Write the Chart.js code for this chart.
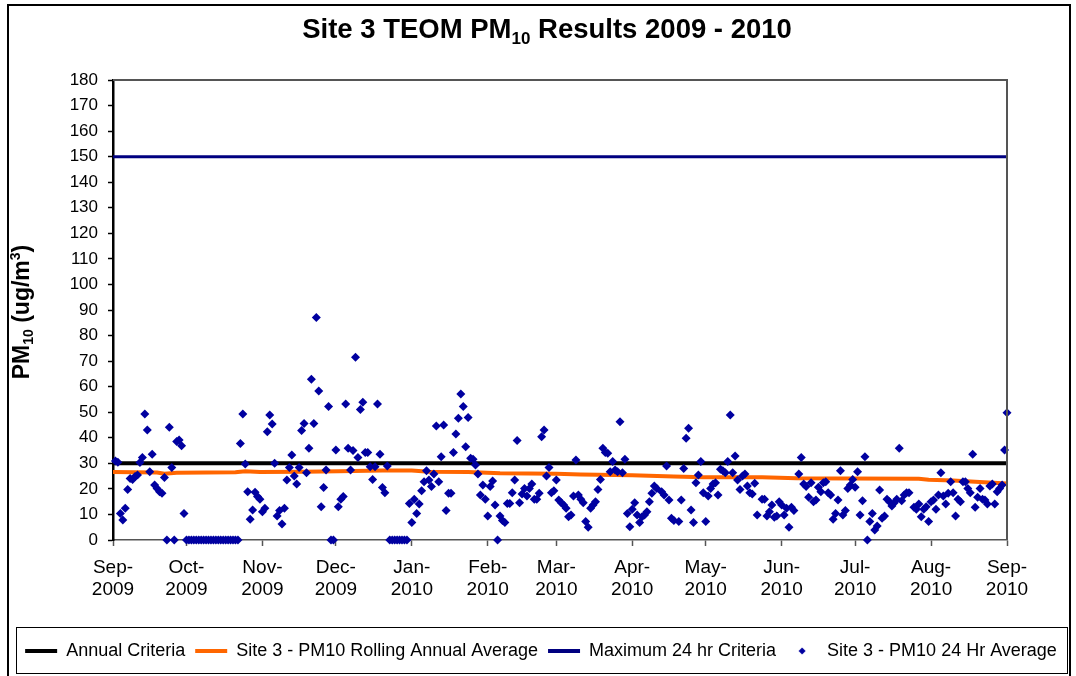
<!DOCTYPE html>
<html>
<head>
<meta charset="utf-8">
<script src="https://cdn.jsdelivr.net/npm/chart.js@4.4.1/dist/chart.umd.min.js"></script>
<style>
  html, body { margin: 0; padding: 0; background: #fff; }
</style>
</head>
<body>
<canvas id="chart" width="1076" height="676"></canvas>
<script>
// x values are days since 1 Sep 2009
const monthTickDays = [0, 30, 61, 91, 122, 153, 181, 212, 242, 273, 303, 334, 365];
const monthTickLabels = [
    ['Sep-', '2009'], ['Oct-', '2009'], ['Nov-', '2009'], ['Dec-', '2009'],
    ['Jan-', '2010'], ['Feb-', '2010'], ['Mar-', '2010'], ['Apr-', '2010'],
    ['May-', '2010'], ['Jun-', '2010'], ['Jul-', '2010'], ['Aug-', '2010'], ['Sep-', '2010']
];

const criteriaDays = [0, 365];
const annualCriteria = [30, 30];
const max24hrCriteria = [150, 150];

const rollingDays = [0, 18, 21, 26, 50, 54, 60, 78, 92, 110, 122, 129, 145, 158, 181, 191, 212, 229, 241, 265, 279, 301, 329, 333, 343, 352, 365];
const rollingAvg = [26.6, 26.4, 25.9, 26.3, 26.5, 26.9, 26.6, 26.7, 26.9, 27.2, 27.2, 26.7, 26.6, 26.1, 25.9, 25.6, 25.3, 24.8, 24.6, 24.6, 24.2, 24.1, 24.0, 23.6, 23.3, 22.8, 22.1];

// daily 24 hr averages, index = day (null = no reading)
const pm10Daily = [
    null, 30.9, 30.4, 10.4, 7.8, 12.4, 19.8, 24.1, 23.7, 24.8,
    25.4, 30.3, 32.3, 49.3, 43.0, 26.7, 33.6, 21.5, 20.2, 18.9,
    18.3, 24.5, 0, 44.1, 28.4, 0, 38.5, 39.1, 36.9, 10.4,
    0, 0, 0, 0, 0, 0, 0, 0, 0, 0,
    0, 0, 0, 0, 0, 0, 0, 0, 0, 0,
    0, 0, 37.8, 49.3, 29.7, 18.9, 8.1, 11.7, 18.7, 17.0,
    15.9, 11.1, 12.4, 42.4, 48.9, 45.4, 30.0, 9.4, 11.5, 6.3,
    12.4, 23.5, 28.4, 33.3, 25.0, 21.9, 28.4, 42.8, 45.6, 26.3,
    35.9, 62.9, 45.6, 87.1, 58.3, 13.0, 20.5, 27.4, 52.2, 0,
    0, 35.2, 13.0, 15.9, 17.0, 53.2, 35.9, 27.4, 35.0, 71.5,
    32.3, 51.1, 53.9, 34.2, 34.2, 28.7, 23.7, 28.7, 53.2, 33.6,
    20.5, 18.5, 29.0, 0, 0, 0, 0, 0, 0, 0,
    0, 14.3, 6.8, 15.9, 10.4, 14.1, 19.3, 22.8, 27.1, 23.5,
    20.9, 25.8, 44.6, 22.8, 32.6, 45.0, 11.5, 18.3, 18.3, 34.2,
    41.5, 47.6, 57.1, 52.2, 36.5, 47.9, 32.0, 31.6, 29.3, 25.8,
    17.6, 21.5, 15.9, 9.4, 20.9, 23.1, 13.7, 0, 9.4, 7.6,
    6.8, 14.3, 14.3, 18.5, 23.5, 38.9, 14.6, 18.0, 20.2, 17.2,
    20.2, 21.9, 15.9, 15.9, 18.3, 40.4, 43.0, 25.0, 28.4, 18.5,
    19.3, 23.5, 15.7, 14.6, 13.7, 12.4, 9.1, 9.8, 17.2, 31.3,
    17.6, 15.9, 14.6, 7.2, 5.0, 12.4, 13.7, 15.0, 19.8, 23.7,
    35.9, 34.2, 33.9, 26.7, 30.7, 27.4, 26.7, 46.3, 26.3, 31.6,
    10.4, 5.2, 12.0, 14.6, 9.8, 6.8, 9.1, 9.8, 11.1, 15.0,
    18.3, 21.1, 20.2, null, 18.9, 17.6, 29.0, 15.7, 8.5, 7.6,
    null, 7.2, 15.7, 28.0, 39.8, 43.7, 11.7, 6.8, 22.4, 25.4,
    30.7, 18.5, 7.2, 17.2, 20.2, 21.9, 22.4, 17.6, 27.7, 27.1,
    26.3, 30.7, 48.9, 26.3, 32.9, 23.5, 19.8, 25.0, 25.8, 21.1,
    18.5, 18.0, 22.2, 9.8, null, 15.9, 15.9, 9.4, 11.1, 13.7,
    8.9, 9.4, 15.0, 13.7, 9.8, 12.4, 5.0, 12.8, 11.5, null,
    25.8, 32.3, 21.9, 20.9, 16.7, 22.4, 15.0, 15.7, 20.6, 18.9,
    22.4, 22.8, 18.5, 17.6, 8.1, 10.4, 15.7, 27.1, 9.8, 11.5,
    20.2, 21.5, 23.7, 20.6, 26.7, 9.8, 15.4, 32.6, 0, 7.2,
    10.4, 3.9, 5.5, 19.6, 8.5, 9.4, 15.9, 15.0, 13.3, 14.6,
    15.9, 35.9, 15.4, 17.6, 18.5, 18.5, null, 12.8, 12.0, 14.1,
    9.1, 12.0, 13.0, 7.2, 15.0, 15.7, 12.0, 17.6, 26.3, 17.2,
    14.1, 18.3, 22.8, 18.5, 9.4, 15.9, 15.0, 22.8, 22.8, 20.2,
    18.5, 33.6, 12.8, 16.7, 20.2, 15.9, 15.7, 14.1, 21.1, 21.9,
    14.1, 18.9, 20.2, 21.5, 35.2, 49.8
];

const FONT = '"Liberation Sans", Arial, sans-serif';
Chart.defaults.font.family = FONT;
Chart.defaults.color = '#000';

const toXY = (xs, ys) => xs.map((x, i) => ({ x: x, y: ys[i] }));
const dailyPoints = [];
pm10Daily.forEach((v, day) => { if (v !== null) dailyPoints.push({ x: day, y: v }); });

// small diamond for the legend
const diamond = document.createElement('canvas');
diamond.width = 8;
diamond.height = 8;
const dctx = diamond.getContext('2d');
dctx.fillStyle = '#0000A0';
dctx.beginPath();
dctx.moveTo(4, 0.5); dctx.lineTo(7.5, 4); dctx.lineTo(4, 7.5); dctx.lineTo(0.5, 4);
dctx.closePath();
dctx.fill();

// draw a row of text pieces, some as sub/superscript
function drawRuns(ctx, runs, cx, baseY, weight) {
    let total = 0;
    runs.forEach(r => {
        ctx.font = weight + ' ' + r.size + 'px ' + FONT;
        r.w = ctx.measureText(r.text).width;
        total += r.w;
    });
    let x = cx - total / 2;
    ctx.textAlign = 'left';
    ctx.textBaseline = 'alphabetic';
    runs.forEach(r => {
        ctx.font = weight + ' ' + r.size + 'px ' + FONT;
        ctx.fillText(r.text, x, baseY + (r.dy || 0));
        x += r.w;
    });
}

const decorPlugin = {
    id: 'decor',
    afterDraw(chart) {
        const ctx = chart.ctx;
        const a = chart.chartArea;
        ctx.save();
        // outer frame
        ctx.strokeStyle = '#000';
        ctx.lineWidth = 2;
        ctx.strokeRect(8, 5, 1062, 690);
        // legend box
        ctx.lineWidth = 1;
        ctx.strokeRect(16.5, 627.5, 1051, 46);
        // plot area border (top and right)
        ctx.strokeStyle = '#555';
        ctx.lineWidth = 2;
        ctx.beginPath();
        ctx.moveTo(a.left, a.top);
        ctx.lineTo(a.right, a.top);
        ctx.lineTo(a.right, a.bottom);
        ctx.stroke();
        // title
        ctx.fillStyle = '#000';
        drawRuns(ctx, [
            { text: 'Site 3 TEOM PM', size: 27.5 },
            { text: '10', size: 17, dy: 6 },
            { text: ' Results 2009 - 2010', size: 27.5 }
        ], 547, 38, 'bold');
        // y axis title
        ctx.translate(21, 312);
        ctx.rotate(-Math.PI / 2);
        drawRuns(ctx, [
            { text: 'PM', size: 23 },
            { text: '10', size: 14, dy: 4 },
            { text: ' (ug/m', size: 23 },
            { text: '3', size: 14, dy: -9 },
            { text: ')', size: 23 }
        ], 0, 8, 'bold');
        ctx.restore();
    }
};

new Chart(document.getElementById('chart'), {
    type: 'scatter',
    data: {
        datasets: [
            {
                label: 'Annual Criteria',
                data: toXY(criteriaDays, annualCriteria),
                showLine: true,
                borderColor: '#000000',
                backgroundColor: '#000000',
                borderWidth: 4,
                pointRadius: 0,
                order: 2
            },
            {
                label: 'Site 3 - PM10 Rolling Annual Average',
                data: toXY(rollingDays, rollingAvg),
                showLine: true,
                borderColor: '#FF6600',
                backgroundColor: '#FF6600',
                borderWidth: 4,
                pointRadius: 0,
                order: 3
            },
            {
                label: 'Maximum 24 hr Criteria',
                data: toXY(criteriaDays, max24hrCriteria),
                showLine: true,
                borderColor: '#000080',
                backgroundColor: '#000080',
                borderWidth: 3,
                pointRadius: 0,
                order: 4
            },
            {
                label: 'Site 3 - PM10 24 Hr Average',
                data: dailyPoints,
                pointStyle: 'rectRot',
                pointRadius: 4.5,
                borderWidth: 0,
                backgroundColor: '#0000A0',
                borderColor: '#0000A0',
                clip: false,
                order: 1
            }
        ]
    },
    options: {
        responsive: false,
        animation: false,
        layout: { padding: { left: 6, top: 80, right: 0, bottom: 6 } },
        plugins: {
            title: { display: false },
            tooltip: { enabled: false },
            legend: {
                position: 'bottom',
                labels: {
                    usePointStyle: true,
                    pointStyleWidth: 32,
                    padding: 10,
                    font: { size: 18 },
                    color: '#000',
                    generateLabels: chart => chart.data.datasets.map((ds, i) => ({
                        text: ds.label,
                        datasetIndex: i,
                        fillStyle: ds.borderColor,
                        strokeStyle: ds.borderColor,
                        lineWidth: 4,
                        pointStyle: ds.showLine ? 'line' : diamond,
                        fontColor: '#000',
                        hidden: false
                    }))
                }
            }
        },
        scales: {
            x: {
                type: 'linear',
                min: 0,
                max: 365,
                afterBuildTicks: scale => { scale.ticks = monthTickDays.map(v => ({ value: v })); },
                afterFit: scale => { scale.height = 92; },
                ticks: {
                    autoSkip: false,
                    maxRotation: 0,
                    padding: 10,
                    font: { size: 19 },
                    color: '#000',
                    callback: (value, index) => monthTickLabels[index]
                },
                grid: { drawOnChartArea: false, tickLength: 6, tickColor: '#555', tickWidth: 1.5 },
                border: { color: '#555', width: 1.5 }
            },
            y: {
                min: 0,
                max: 180,
                afterFit: scale => { scale.width = 107; },
                ticks: { stepSize: 10, autoSkip: false, padding: 10, font: { size: 17 }, color: '#000' },
                grid: { drawOnChartArea: false, tickLength: 5, tickColor: '#000', tickWidth: 1.5 },
                border: { color: '#000', width: 2.5 }
            },
            yR: {
                position: 'right',
                afterFit: scale => { scale.width = 69; },
                ticks: { display: false },
                grid: { display: false },
                border: { display: false }
            }
        }
    },
    plugins: [decorPlugin]
});
</script>
</body>
</html>
